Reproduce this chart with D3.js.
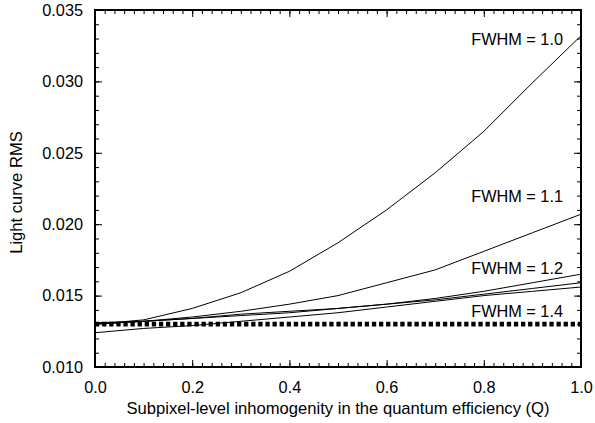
<!DOCTYPE html>
<html>
<head>
<meta charset="utf-8">
<script src="https://cdn.jsdelivr.net/npm/d3@7"></script>
<style>
  body { margin: 0; background: #fff; }
  svg { display: block; font-family: "Liberation Sans", Arial, Helvetica, sans-serif; }
</style>
</head>
<body>
<svg id="chart" width="595" height="423"></svg>
<script>
// values
const qValues = [0.0, 0.1, 0.2, 0.3, 0.4, 0.5, 0.6, 0.7, 0.8, 0.9, 1.0];
const fwhm10 = [0.0130, 0.0133, 0.0141, 0.0152, 0.0167, 0.0187, 0.0210, 0.0236, 0.0265, 0.0299, 0.0332];
const fwhm11 = [0.0130, 0.0132, 0.0135, 0.0139, 0.0144, 0.0150, 0.0159, 0.0168, 0.0181, 0.0194, 0.0207];
const fwhm12 = [0.0131, 0.0132, 0.0134, 0.0137, 0.0139, 0.0141, 0.0144, 0.0148, 0.0153, 0.0159, 0.0165];
const fwhm13 = [0.0130, 0.0132, 0.0134, 0.0136, 0.0138, 0.0141, 0.0144, 0.0147, 0.0151, 0.0155, 0.0159];
const fwhm14 = [0.0124, 0.0127, 0.0129, 0.0132, 0.0135, 0.0138, 0.0142, 0.0146, 0.0150, 0.0153, 0.0156];
const noInhomogeneity = [0.0130, 0.0130, 0.0130, 0.0130, 0.0130, 0.0130, 0.0130, 0.0130, 0.0130, 0.0130, 0.0130];

const xTicks = [0.0, 0.2, 0.4, 0.6, 0.8, 1.0];
const yTicks = [0.010, 0.015, 0.020, 0.025, 0.030, 0.035];

const curveLabels = ['FWHM = 1.0', 'FWHM = 1.1', 'FWHM = 1.2', 'FWHM = 1.4'];
const labelQ = [0.963, 0.963, 0.963, 0.963];
const labelRms = [0.03255, 0.02158, 0.01651, 0.01352];

const svg = d3.select('#chart');
const margin = { top: 10, right: 14, bottom: 56, left: 95 };
const width = +svg.attr('width');
const height = +svg.attr('height');

const x = d3.scaleLinear()
    .domain([0, 1])
    .range([margin.left, width - margin.right]);

const y = d3.scaleLinear()
    .domain([0.010, 0.035])
    .range([height - margin.bottom, margin.top]);

const xMinor = d3.range(0, 1.0001, 0.02);
const yMinor = d3.range(0.010, 0.03501, 0.001);

const line = d3.line()
    .x((d, i) => x(qValues[i]))
    .y(d => y(d));

// curves
[fwhm10, fwhm11, fwhm12, fwhm13, fwhm14].forEach(series => {
    svg.append('path')
        .datum(series)
        .attr('d', line)
        .attr('fill', 'none')
        .attr('stroke', '#000')
        .attr('stroke-width', 1);
});

svg.append('path')
    .datum(noInhomogeneity)
    .attr('d', line)
    .attr('fill', 'none')
    .attr('stroke', '#000')
    .attr('stroke-width', 4.8)
    .attr('stroke-dasharray', '4.3,2.8');

// ticks, all pointing inward
function addAxis(axis, transform) {
    const g = svg.append('g')
        .attr('transform', transform)
        .call(axis);
    g.select('.domain').remove();
    g.selectAll('.tick line').attr('stroke-width', 1);
    g.selectAll('text')
        .attr('font-size', 16.3)
        .attr('font-family', '"Liberation Sans", Arial, sans-serif')
        .attr('fill', '#000');
    return g;
}

const bottom = height - margin.bottom;
const right = width - margin.right;

addAxis(d3.axisBottom(x).tickValues(xMinor).tickSize(-4).tickFormat(''), `translate(0,${bottom})`);
addAxis(d3.axisBottom(x).tickValues(xTicks).tickSize(-7).tickPadding(14).tickFormat(d3.format('.1f')), `translate(0,${bottom})`);
addAxis(d3.axisTop(x).tickValues(xMinor).tickSize(-4).tickFormat(''), `translate(0,${margin.top})`);
addAxis(d3.axisTop(x).tickValues(xTicks).tickSize(-7).tickFormat(''), `translate(0,${margin.top})`);

addAxis(d3.axisLeft(y).tickValues(yMinor).tickSize(-4).tickFormat(''), `translate(${margin.left},0)`);
addAxis(d3.axisLeft(y).tickValues(yTicks).tickSize(-7).tickPadding(12).tickFormat(d3.format('.3f')), `translate(${margin.left},0)`);
addAxis(d3.axisRight(y).tickValues(yMinor).tickSize(-4).tickFormat(''), `translate(${right},0)`);
addAxis(d3.axisRight(y).tickValues(yTicks).tickSize(-7).tickFormat(''), `translate(${right},0)`);

// frame
svg.append('rect')
    .attr('x', margin.left)
    .attr('y', margin.top)
    .attr('width', right - margin.left)
    .attr('height', bottom - margin.top)
    .attr('fill', 'none')
    .attr('stroke', '#000')
    .attr('stroke-width', 2);

// curve labels
svg.selectAll('.curve-label')
    .data(curveLabels)
    .enter().append('text')
    .attr('class', 'curve-label')
    .attr('x', (d, i) => x(labelQ[i]))
    .attr('y', (d, i) => y(labelRms[i]))
    .attr('text-anchor', 'end')
    .attr('font-size', 16.3)
    .text(d => d);

// axis titles
svg.append('text')
    .attr('x', (margin.left + right) / 2)
    .attr('y', 414)
    .attr('text-anchor', 'middle')
    .attr('font-size', 16.6)
    .text('Subpixel-level inhomogenity in the quantum efficiency (Q)');

svg.append('text')
    .attr('transform', `translate(22,${(margin.top + bottom) / 2 + 4}) rotate(-90)`)
    .attr('text-anchor', 'middle')
    .attr('font-size', 16.6)
    .text('Light curve RMS');
</script>
</body>
</html>
